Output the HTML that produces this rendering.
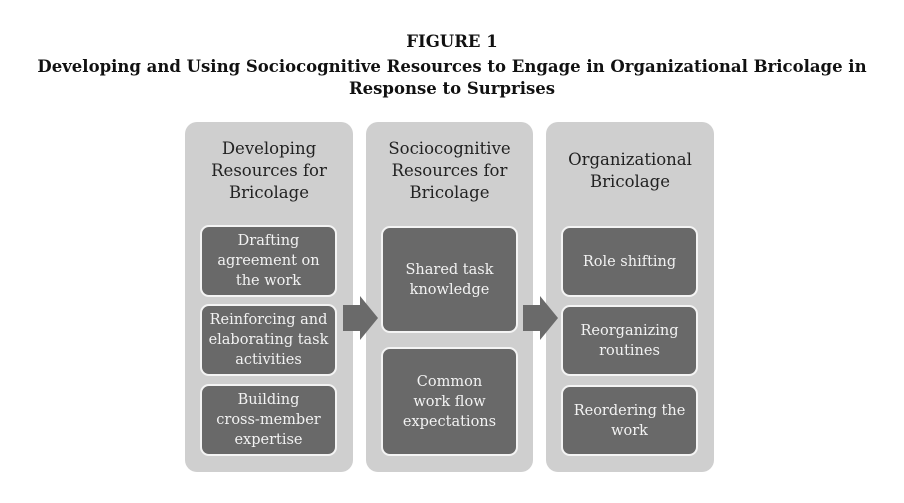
<!DOCTYPE html>
<html><head><meta charset="utf-8"><style>
body{margin:0;width:904px;height:503px;background:#fff;position:relative;font-family:"DejaVu Serif","Liberation Serif",serif;overflow:hidden}
.t{position:absolute;left:0;width:904px;text-align:center;font-weight:bold;font-size:16.5px;line-height:22px;color:#111;white-space:nowrap}
.col{position:absolute;background:#cfcfcf;border-radius:12px}
.hd{position:absolute;text-align:center;font-size:16.5px;line-height:22px;color:#222}
.bx{position:absolute;background:#696969;border:2px solid #f4f4f4;border-radius:9px;box-sizing:border-box;color:#f2f2f2;font-size:14.5px;line-height:20px;display:flex;align-items:center;justify-content:center;text-align:center}
.ar{position:absolute}
</style></head><body>
<div class="t" style="top:31px">FIGURE 1</div>
<div class="t" style="top:56px">Developing and Using Sociocognitive Resources to Engage in Organizational Bricolage in<br>Response to Surprises</div>

<div class="col" style="left:185px;top:122px;width:168px;height:350px"></div>
<div class="hd" style="left:185px;top:138px;width:168px">Developing<br>Resources for<br>Bricolage</div>
<div class="bx" style="left:200px;top:225px;width:137px;height:72px">Drafting<br>agreement on<br>the work</div>
<div class="bx" style="left:200px;top:304px;width:137px;height:72px">Reinforcing and<br>elaborating task<br>activities</div>
<div class="bx" style="left:200px;top:384px;width:137px;height:72px">Building<br>cross-member<br>expertise</div>

<div class="col" style="left:366px;top:122px;width:167px;height:350px"></div>
<div class="hd" style="left:366px;top:138px;width:167px">Sociocognitive<br>Resources for<br>Bricolage</div>
<div class="bx" style="left:381px;top:226px;width:137px;height:107px">Shared task<br>knowledge</div>
<div class="bx" style="left:381px;top:347px;width:137px;height:109px">Common<br>work flow<br>expectations</div>

<div class="col" style="left:546px;top:122px;width:168px;height:350px"></div>
<div class="hd" style="left:546px;top:149px;width:168px">Organizational<br>Bricolage</div>
<div class="bx" style="left:561px;top:226px;width:137px;height:71px">Role shifting</div>
<div class="bx" style="left:561px;top:305px;width:137px;height:71px">Reorganizing<br>routines</div>
<div class="bx" style="left:561px;top:385px;width:137px;height:71px">Reordering the<br>work</div>

<svg class="ar" style="left:340px;top:295px" width="40" height="46"><polygon points="3,10 20,10 20,1 38,23 20,45 20,36 3,36" fill="#6a6a6a"/></svg>
<svg class="ar" style="left:520px;top:295px" width="40" height="46"><polygon points="3,10 20,10 20,1 38,23 20,45 20,36 3,36" fill="#6a6a6a"/></svg>
</body></html>
